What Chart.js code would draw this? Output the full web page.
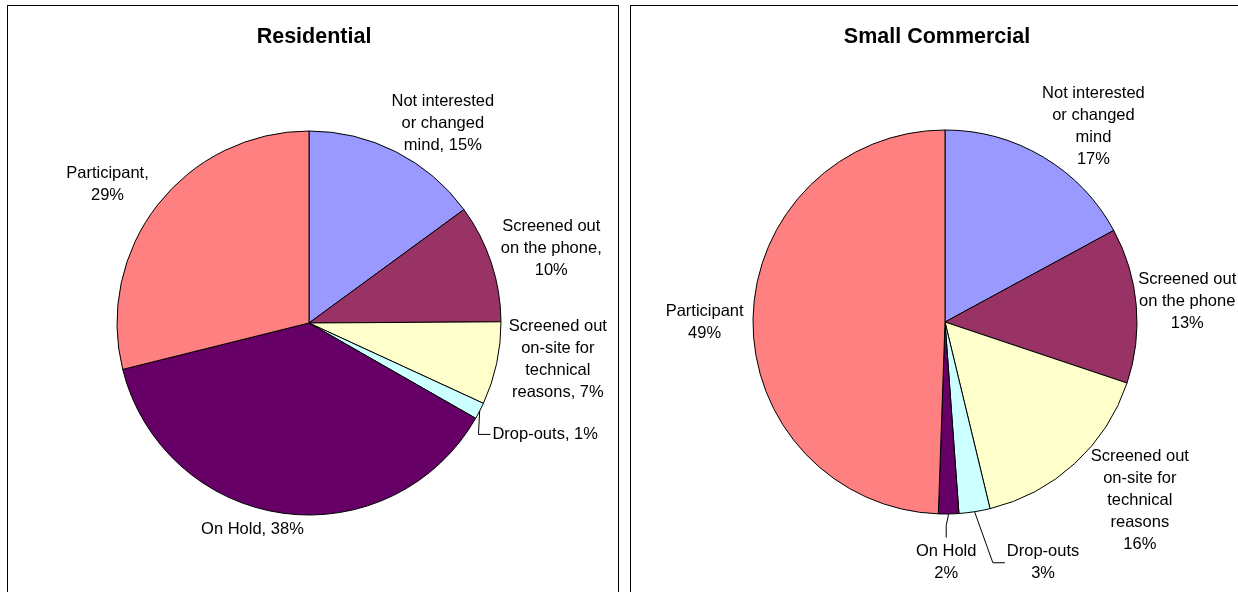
<!DOCTYPE html>
<html>
<head>
<meta charset="utf-8">
<script src="https://cdn.jsdelivr.net/npm/chart.js@4.4.1/dist/chart.umd.min.js"></script>
<style>
  html,body{margin:0;padding:0;background:#fff;overflow:hidden;width:1238px;height:592px;}
  .panel{position:absolute;top:5px;height:600px;width:612px;border:1px solid #000;box-sizing:border-box;background:#fff;}
  .panel canvas{position:absolute;left:0;top:0;}
</style>
</head>
<body>
<div class="panel" style="left:7px"><canvas id="res" width="608" height="598"></canvas></div>
<div class="panel" style="left:630px"><canvas id="sc" width="608" height="598"></canvas></div>
<script>
// data (slice sizes, labels round them)
const categories = ['Not interested or changed mind','Screened out on the phone','Screened out on-site for technical reasons','Drop-outs','On Hold','Participant'];
const residential = [15, 10, 7, 1.4, 38, 29];
const smallCommercial = [17, 13, 16, 2.6, 1.7, 49.2];
const colors = ['#9999FF','#993366','#FFFFCC','#CCFFFF','#660066','#FF8080'];

// label text as wrapped in the picture, {p} = percent
const resText = ['Not interested|or changed|mind, {p}%','Screened out|on the phone,|{p}%','Screened out|on-site for|technical|reasons, {p}%','Drop-outs, {p}%','On Hold, {p}%','Participant,|{p}%'];
const scText = ['Not interested|or changed|mind|{p}%','Screened out|on the phone|{p}%','Screened out|on-site for|technical|reasons|{p}%','Drop-outs|{p}%','On Hold|{p}%','Participant|{p}%'];

// label placement: [angle nudge deg, distance / radius, leader]
const resPlace = [[7,1.25],[1.2,1.32],[-3.8,1.31],[-2,1.36,'left'],[7.4,1.117],[-3.4,1.275]];
const scPlace = [[6.5,1.277],[0.2,1.266],[-5,1.376],[-13.3,1.354,'left'],[0.8,1.253,'top'],[-1,1.252]];

const FONT = '"Liberation Sans", Arial, sans-serif';

const pieLabels = {
  id:'pieLabels',
  afterDraw(chart, args, opts){
    const ctx = chart.ctx; const meta = chart.getDatasetMeta(0);
    const vals = chart.data.datasets[0].data; const total = vals.reduce((a,b)=>a+b,0);
    ctx.save();
    ctx.fillStyle = '#000'; ctx.textAlign = 'center'; ctx.textBaseline = 'middle';
    ctx.font = 'bold 21.5px ' + FONT;
    ctx.fillText(opts.title, opts.titleX, opts.titleY);
    ctx.font = '16.5px ' + FONT;
    ctx.strokeStyle = '#000'; ctx.lineWidth = 1;
    meta.data.forEach((arc,i)=>{
      const {x,y,startAngle,endAngle,outerRadius} = arc.getProps(['x','y','startAngle','endAngle','outerRadius'], true);
      const mid = (startAngle+endAngle)/2;
      const p = opts.place[i];
      const a = mid + p[0]*Math.PI/180, d = outerRadius*p[1];
      const cx = x + Math.cos(a)*d, cy = y + Math.sin(a)*d;
      const pct = Math.round(vals[i]/total*100);
      const lines = opts.text[i].replace('{p}', pct).split('|');
      const lh = 22, top = cy - lh*lines.length/2;
      const w = Math.max(...lines.map(l=>ctx.measureText(l).width));
      lines.forEach((l,k)=>ctx.fillText(l, cx, top + lh*(k+0.5)));
      if (p[2]) {
        const ex = x + Math.cos(mid)*outerRadius, ey = y + Math.sin(mid)*outerRadius;
        ctx.beginPath(); ctx.moveTo(ex, ey);
        if (p[2] === 'left') {
          const ax = cx - w/2 - 2;
          ctx.lineTo(ax - 12, cy); ctx.lineTo(ax, cy);
        } else {
          const ay = top - 3;
          ctx.lineTo(cx, ay - 12); ctx.lineTo(cx, ay);
        }
        ctx.stroke();
      }
    });
    ctx.restore();
  }
};

function pie(id, values, title, text, place, pad){
  return new Chart(document.getElementById(id).getContext('2d'), {
    type:'pie',
    data:{labels:categories, datasets:[{data:values, backgroundColor:colors, borderColor:'#000', borderWidth:1, hoverOffset:0, radius:192}]},
    options:{
      responsive:false, animation:false,
      layout:{padding:pad},
      plugins:{legend:{display:false}, tooltip:{enabled:false},
        pieLabels:{title, titleX:306, titleY:31, text, place}}
    },
    plugins:[pieLabels]
  });
}

pie('res', residential, 'Residential', resText, resPlace, {left:100,right:106,top:110,bottom:74});
pie('sc', smallCommercial, 'Small Commercial', scText, scPlace, {left:110,right:90,top:110,bottom:76});
</script>
</body>
</html>
